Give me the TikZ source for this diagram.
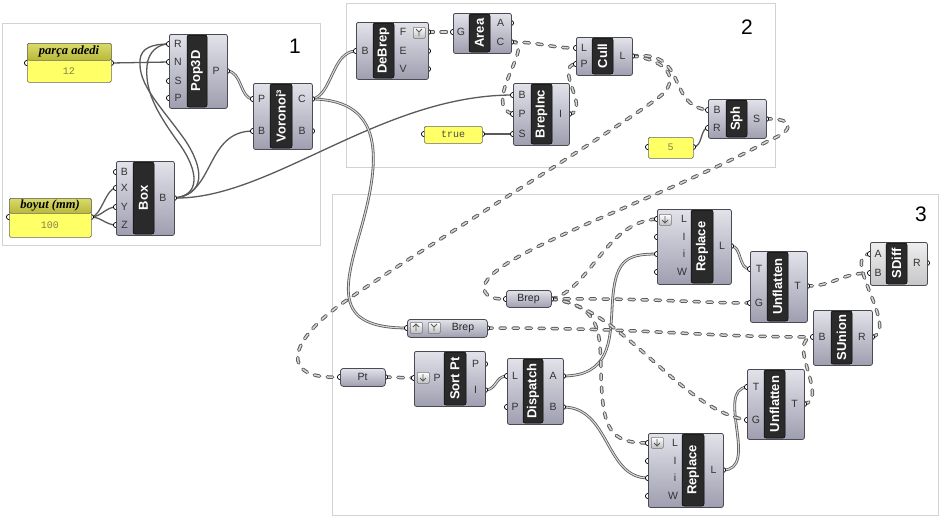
\documentclass[tikz,border=0pt]{standalone}
\usepackage{fontspec}
\setmainfont{Liberation Sans}
\newfontfamily\serifbi{Liberation Serif}
\newfontfamily\monof{Liberation Mono}
\usetikzlibrary{shadings}
\pgfdeclarelayer{groups}\pgfdeclarelayer{wires}\pgfdeclarelayer{ports}
\pgfsetlayers{groups,wires,ports,main}
\definecolor{cbtop}{HTML}{E2E2EA}
\definecolor{cbbot}{HTML}{9E9EB0}
\definecolor{cltop}{HTML}{EEEEEE}
\definecolor{clbot}{HTML}{C6C6C8}
\definecolor{cbord}{HTML}{4A4A52}
\definecolor{cinner}{HTML}{2A2A2A}
\definecolor{cpanel}{HTML}{FFFF66}
\definecolor{chtop}{HTML}{DADA6A}
\definecolor{chbot}{HTML}{B8B83C}
\definecolor{cval}{HTML}{808050}
\definecolor{cwire}{HTML}{5A5A5A}
\definecolor{cwirein}{HTML}{D8D8D8}
\definecolor{cgroup}{HTML}{D2D2D2}
\tikzset{
 compbox/.style={draw=cbord, line width=0.8pt, rounded corners=2pt, top color=cbtop, bottom color=cbbot, inner sep=0pt, anchor=north west},
 light/.style={top color=cltop, bottom color=clbot},
 innerbox/.style={fill=cinner, draw=black, line width=0.5pt, rounded corners=2pt, inner sep=0pt},
 comptext/.style={text=white, font=\bfseries\fontsize{13}{13}\selectfont, inner sep=0pt},
 plabel/.style={text=black!80, font=\fontsize{10.5}{11}\selectfont, inner sep=0pt},
 portc/.style={draw=black, fill=white, line width=0.7pt},
 wire/.style={draw=cwire, line width=1.3pt},
 dwire/.style={draw=cwire, double=cwirein, double distance=1.1pt, line width=0.8pt},
 twire/.style={draw=cwirein, line width=1.5pt, dash pattern=on 5.4pt off 7.6pt, line cap=round,
   preaction={draw=cwire, line width=3.5pt, dash pattern=on 5.4pt off 7.6pt, line cap=round}},
 parambox/.style={draw=cbord, line width=0.8pt, rounded corners=3pt, top color=cbtop, bottom color=cbbot, inner sep=0pt, anchor=north west},
 ptext/.style={text=black!85, font=\fontsize{10.5}{11}\selectfont, inner sep=0pt},
 panelbox/.style={draw=black!60, fill=cpanel, line width=0.6pt, rounded corners=1.5pt, anchor=north west, inner sep=0pt},
 headbox/.style={draw=black!60, top color=chtop, bottom color=chbot, line width=0.6pt, rounded corners=1.5pt, anchor=north west, inner sep=0pt},
 iconbox/.style={draw=black!55, top color=white, bottom color=black!25, rounded corners=1pt, line width=0.5pt, inner sep=0pt, anchor=north west, minimum width=12pt, minimum height=11pt},
 iconline/.style={draw=black!65, line width=0.9pt},
 grp/.style={draw=cgroup, fill=white, line width=0.9pt, anchor=north west, inner sep=0pt},
 grpnum/.style={font=\fontsize{21}{21}\selectfont, inner sep=0pt}
}
% name, x1,y1,x2,y2, innerx1, innerx2, title, extra style
\newcommand\gcomp[9]{%
 \node[compbox, #9, minimum width=#4pt-#2pt, minimum height=#5pt-#3pt] (#1) at (#2,#3) {};
 \node[innerbox, minimum width=#7pt-#6pt, minimum height=#5pt-#3pt-2pt] (#1-in) at ({(#6+#7)/2},{(#3+#5)/2}) {};
 \node[comptext, rotate=90] (#1-t) at (#1-in) {#8};}
\newcommand\gport[5]{%
 \coordinate (#1) at (#2,#3);
 \begin{pgfonlayer}{ports}\path[portc] (#2,#3) circle (2.6pt);\end{pgfonlayer}
 \node[plabel] (#1-l) at (#4,#3) {#5};}
\newcommand\bport[3]{%
 \coordinate (#1) at (#2,#3);
 \begin{pgfonlayer}{ports}\path[portc] (#2,#3) circle (2.6pt);\end{pgfonlayer}}
% name, x1,y1,x2,y2, header bottom, title, value
\newcommand\hpanel[8]{%
 \node[panelbox, minimum width=#4pt-#2pt, minimum height=#5pt-#3pt] (#1) at (#2,#3) {};
 \node[headbox, minimum width=#4pt-#2pt, minimum height=#6pt-#3pt] (#1-h) at (#2,#3) {};
 \node[inner sep=0pt, font=\serifbi\bfseries\itshape\fontsize{12.5}{12.5}\selectfont] (#1-t) at ({(#2+#4)/2},{(#3+#6)/2}) {#7};
 \node[inner sep=0pt, text=cval, font=\monof\fontsize{10}{10}\selectfont] (#1-v) at ({(#2+#4)/2},{(#6+#5)/2}) {#8};}
\newcommand\downicon[3]{%
 \node[iconbox] (#1) at (#2,#3) {};
 \draw[iconline] ({#2+6},{#3+2}) -- ({#2+6},{#3+9}) ({#2+3},{#3+6}) -- ({#2+6},{#3+9}) -- ({#2+9},{#3+6});}
\newcommand\upicon[3]{%
 \node[iconbox] (#1) at (#2,#3) {};
 \draw[iconline] ({#2+6},{#3+9}) -- ({#2+6},{#3+2}) ({#2+3},{#3+5}) -- ({#2+6},{#3+2}) -- ({#2+9},{#3+5});}
\newcommand\yicon[3]{%
 \node[iconbox] (#1) at (#2,#3) {};
 \draw[iconline] ({#2+3},{#3+2}) -- ({#2+6},{#3+5}) -- ({#2+9},{#3+2}) ({#2+6},{#3+5}) -- ({#2+6},{#3+9});}
\begin{document}
\begin{tikzpicture}[x=1pt,y=-1pt]
\useasboundingbox (0,0) rectangle (940,520);
% groups
\begin{pgfonlayer}{groups}
\fill[white] (0,0) rectangle (940,520);
\node[grp, minimum width=318pt, minimum height=222pt] (g1) at (2,23) {};
\node[grp, minimum width=429pt, minimum height=164pt] (g2) at (346,3) {};
\node[grp, minimum width=606pt, minimum height=321pt] (g3) at (332,194) {};
\end{pgfonlayer}
\node[grpnum] (n1) at (295,46) {1};
\node[grpnum] (n2) at (747,27) {2};
\node[grpnum] (n3) at (921,214) {3};
% ---------- group 1
\hpanel{pa}{27}{43}{111}{82}{60}{parça adedi}{12}
\bport{pa-i}{27}{63}\bport{pa-o}{111}{63}
\gcomp{pop}{169}{34}{227}{108}{187}{207}{Pop3D}{}
\gport{pop-R}{169}{44}{178}{R}\gport{pop-N}{169}{62}{178}{N}
\gport{pop-S}{169}{81}{178}{S}\gport{pop-P}{169}{98}{178}{P}
\gport{pop-oP}{227}{71}{216}{P}
\gcomp{vor}{253}{83}{312}{149}{270}{292}{Voronoi³}{}
\gport{vor-P}{253}{99}{261.5}{P}\gport{vor-B}{253}{131}{261.5}{B}
\gport{vor-oC}{312}{99}{302}{C}\gport{vor-oB}{312}{131}{302}{B}
\gcomp{box}{116}{161}{174}{235}{133}{154}{Box}{}
\gport{box-B}{116}{172}{124.5}{B}\gport{box-X}{116}{188}{124.5}{X}
\gport{box-Y}{116}{207}{124.5}{Y}\gport{box-Z}{116}{225}{124.5}{Z}
\gport{box-oB}{174}{198}{163}{B}
\hpanel{pb}{9}{198}{91}{237}{213}{boyut (mm)}{100}
\bport{pb-i}{9}{217}\bport{pb-o}{91}{217}
% ---------- group 2
\gcomp{deb}{356}{22}{428}{79}{373}{394}{DeBrep}{}
\gport{deb-B}{356}{51}{365}{B}
\gport{deb-oF}{428}{32}{403}{F}\gport{deb-oE}{428}{51}{403}{E}\gport{deb-oV}{428}{69}{403}{V}
\yicon{deb-ic}{413}{27}
\gcomp{area}{453}{13}{511}{53}{469}{490}{Area}{}
\gport{area-G}{453}{32}{461}{G}
\gport{area-oA}{511}{23}{500.5}{A}\gport{area-oC}{511}{42}{500.5}{C}
\gcomp{cull}{576}{37}{632}{75}{592}{613}{Cull}{}
\gport{cull-L}{576}{48}{584}{L}\gport{cull-P}{576}{64}{584}{P}
\gport{cull-oL}{632}{56}{622.5}{L}
\gcomp{bi}{513}{83}{569}{145}{531}{552}{BrepInc}{}
\gport{bi-B}{513}{95}{522}{B}\gport{bi-P}{513}{114}{522}{P}\gport{bi-S}{513}{134}{522}{S}
\gport{bi-oI}{569}{114}{560.5}{I}
\node[panelbox, minimum width=58pt, minimum height=17pt] (tr) at (424,126) {};
\node[inner sep=0pt, text=black!70, font=\monof\fontsize{10}{10}\selectfont] (tr-t) at (453,134.5) {true};
\bport{tr-i}{424}{134}\bport{tr-o}{482}{134}
\gcomp{sph}{708}{99}{766}{138}{726}{747}{Sph}{}
\gport{sph-B}{708}{110}{717}{B}\gport{sph-R}{708}{128}{717}{R}
\gport{sph-oS}{766}{119}{756.5}{S}
\node[panelbox, minimum width=45pt, minimum height=21pt] (five) at (648,137) {};
\node[inner sep=0pt, text=cval, font=\monof\fontsize{10}{10}\selectfont] (five-t) at (670.5,147.5) {5};
\bport{five-i}{648}{147}\bport{five-o}{693}{147}
% ---------- group 3
\node[parambox, minimum width=45pt, minimum height=17pt] (b1) at (506,290) {};
\node[ptext] (b1-t) at (528.5,298.5) {Brep};
\bport{b1-i}{506}{299}\bport{b1-o}{551}{299}
\node[parambox, minimum width=80pt, minimum height=18pt] (b2) at (407,319) {};
\upicon{b2-ic1}{410}{322}\yicon{b2-ic2}{428}{322}
\node[ptext] (b2-t) at (463,328) {Brep};
\bport{b2-i}{407}{328}\bport{b2-o}{487}{328}
\node[parambox, minimum width=45pt, minimum height=18pt] (pt) at (340,368) {};
\node[ptext] (pt-t) at (362.5,377) {Pt};
\bport{pt-i}{340}{377}\bport{pt-o}{385}{377}
\gcomp{sort}{414}{351}{485}{406}{444}{466}{Sort Pt}{}
\downicon{sort-ic}{417}{372}
\gport{sort-P}{414}{378}{437}{P}
\gport{sort-oP}{485}{364}{475.5}{P}\gport{sort-oI}{485}{390}{475.5}{I}
\gcomp{dis}{507}{358}{563}{424}{523}{543}{Dispatch}{}
\gport{dis-L}{507}{376}{515}{L}\gport{dis-P}{507}{407}{515}{P}
\gport{dis-oA}{563}{376}{553}{A}\gport{dis-oB}{563}{407}{553}{B}
\gcomp{rt}{657}{209}{731}{284}{691}{713}{Replace}{}
\downicon{rt-ic}{659}{214}
\gport{rt-L}{657}{219}{684}{L}\gport{rt-I}{657}{237}{684}{I}
\gport{rt-i}{657}{254}{684}{i}\gport{rt-W}{657}{272}{682}{W}
\gport{rt-oL}{731}{246}{722}{L}
\gcomp{rb}{648}{433}{723}{507}{682}{704}{Replace}{}
\downicon{rb-ic}{651}{437}
\gport{rb-L}{648}{443}{675}{L}\gport{rb-I}{648}{461}{675}{I}
\gport{rb-i}{648}{478}{675}{i}\gport{rb-W}{648}{496}{673}{W}
\gport{rb-oL}{723}{470}{713.5}{L}
\gcomp{ut}{750}{251}{807}{322}{767}{788}{Unflatten}{}
\gport{ut-T}{750}{269}{759}{T}\gport{ut-G}{750}{303}{759}{G}
\gport{ut-oT}{807}{286}{797.5}{T}
\gcomp{ub}{747}{369}{804}{439}{764}{785}{Unflatten}{}
\gport{ub-T}{747}{387}{756}{T}\gport{ub-G}{747}{420}{756}{G}
\gport{ub-oT}{804}{404}{794.5}{T}
\gcomp{sd}{870}{242}{927}{285}{886}{907}{SDiff}{light}
\gport{sd-A}{870}{254}{878}{A}\gport{sd-B}{870}{273}{878}{B}
\gport{sd-oR}{927}{263}{917}{R}
\gcomp{su}{813}{310}{872}{365}{831}{852}{SUnion}{}
\gport{su-B}{813}{337}{822}{B}\gport{su-oR}{872}{337}{862}{R}
% ---------- wires
\begin{pgfonlayer}{wires}
\draw[wire] (pa-o) -- (pop-N);
\draw[wire] (pb-o) .. controls +(10,0) and +(-10,0) .. (box-X);
\draw[wire] (pb-o) .. controls +(10,0) and +(-10,0) .. (box-Y);
\draw[wire] (pb-o) .. controls +(10,0) and +(-10,0) .. (box-Z);
\draw[wire] (box-oB) .. controls (205,195) and (205,170) .. (185,140) .. controls (160,105) and (138,85) .. (140,60) .. controls (141,48) and (152,44) .. (pop-R);
\draw[wire] (box-oB) .. controls (200,196) and (200,172) .. (178,142) .. controls (155,110) and (145,90) .. (147,66) .. controls (148,52) and (158,44) .. (pop-R);
\draw[wire] (box-oB) .. controls (215,195) and (205,131) .. (vor-B);
\draw[wire] (box-oB) .. controls (270,200) and (380,95) .. (bi-B);
\draw[wire] (tr-o) -- (bi-S);
\draw[wire] (five-o) .. controls (703,147) and (700,128) .. (sph-R);
\draw[dwire] (pop-oP) .. controls (242,71) and (240,99) .. (vor-P);
\draw[dwire] (vor-oC) .. controls (332,96) and (332,51) .. (deb-B);
\draw[dwire] (vor-oC) .. controls (385,100) and (380,160) .. (362,225) .. controls (345,285) and (330,328) .. (b2-i);
\draw[dwire] (sort-oI) .. controls (497,390) and (495,376) .. (dis-L);
\draw[dwire] (dis-oA) .. controls (610,376) and (610,340) .. (612,310) .. controls (614,260) and (625,254) .. (rt-i);
\draw[dwire] (dis-oB) .. controls (610,407) and (605,478) .. (rb-i);
\draw[dwire] (rt-oL) .. controls (742,246) and (738,269) .. (ut-T);
\draw[dwire] (rb-oL) .. controls (760,470) and (715,390) .. (ub-T);
\draw[twire] (deb-oF) -- (area-G);
\draw[twire] (area-oC) .. controls (540,42) and (550,48) .. (cull-L);
\draw[twire] (area-oC) .. controls (538,40) and (480,105) .. (bi-P);
\draw[twire] (bi-oI) .. controls (592,112) and (553,66) .. (cull-P);
\draw[twire] (cull-oL) .. controls (690,50) and (665,105) .. (sph-B);
\draw[twire] (cull-oL) .. controls (668,60) and (682,80) .. (658,98) .. controls (600,140) and (420,250) .. (347,300) .. controls (285,342) and (280,380) .. (pt-i);
\draw[twire] (sph-oS) .. controls (795,118) and (795,130) .. (770,140) .. controls (650,205) and (470,260) .. (485,292) .. controls (488,298) and (495,299) .. (b1-i);
\draw[twire] (b1-o) .. controls (590,290) and (605,222) .. (rt-L);
\draw[twire] (b1-o) .. controls (650,298) and (700,303) .. (ut-G);
\draw[twire] (b1-o) .. controls (600,305) and (600,330) .. (601,370) .. controls (602,430) and (610,443) .. (rb-L);
\draw[twire] (b1-o) .. controls (620,305) and (680,410) .. (ub-G);
\draw[twire] (b2-o) .. controls (650,328) and (700,337) .. (su-B);
\draw[twire] (pt-o) -- (sort-P);
\draw[twire] (ut-oT) .. controls (835,286) and (840,273) .. (sd-B);
\draw[twire] (su-oR) .. controls (900,330) and (840,255) .. (sd-A);
\draw[twire] (ub-oT) .. controls (830,400) and (785,340) .. (su-B);
\end{pgfonlayer}
\end{tikzpicture}
\end{document}
